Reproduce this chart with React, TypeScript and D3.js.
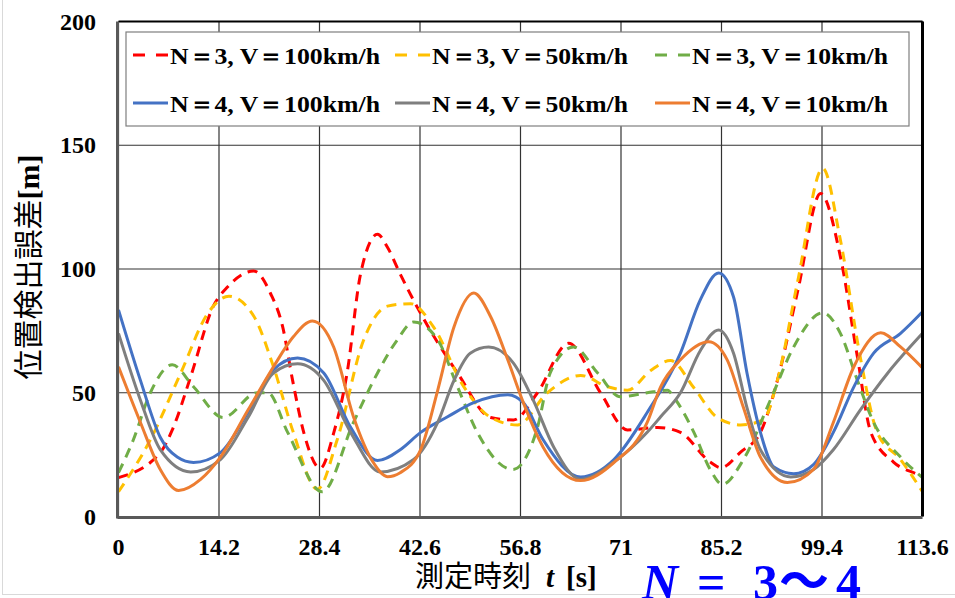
import React from "react";
import * as d3 from "d3";

const xTicks = [0, 14.2, 28.4, 42.6, 56.8, 71, 85.2, 99.4, 113.6];
const xTickLabels = ["0", "14.2", "28.4", "42.6", "56.8", "71", "85.2", "99.4", "113.6"];
const yTicks = [0, 50, 100, 150, 200];

const n3v100: [number, number][] = [
  [0, 15.7], [5.9, 25.8], [7.6, 35], [10.2, 56.5], [13.4, 85], [15.4, 92.7], [19.1, 99.2], [21.5, 90],
  [23.2, 76.6], [24.6, 55], [26.2, 33.7], [28.5, 19.5], [30.4, 33.7], [32.3, 58], [34.2, 98], [36.6, 114],
  [38, 108.8], [39.8, 98], [42.7, 82], [47.9, 58], [52.6, 40], [55.8, 39], [59.2, 50], [63.6, 70],
  [68.1, 50], [71.9, 35], [76.2, 36], [79.4, 34], [83.6, 22], [85.1, 19.7], [87.9, 26], [90.7, 34],
  [93.1, 55], [96, 91.5], [99.2, 130.5], [102, 105], [104.4, 64.5], [106.3, 34], [109.5, 22], [112.9, 17], [113.6, 16],
];
const n3v50: [number, number][] = [
  [0, 10], [4.5, 31], [8.8, 58], [12.6, 82], [15.6, 89], [19.1, 81], [21.9, 60.5], [24.7, 34], [28.1, 11],
  [30.9, 31], [34.6, 71], [38, 85], [41.3, 86], [44.5, 76.6], [48.8, 52.4], [52.6, 40], [56.4, 37],
  [60.6, 50], [65.3, 57], [69.1, 52.4], [71.9, 51], [75.2, 59], [78, 63], [81.3, 52], [84.6, 40],
  [87.9, 37], [91.1, 39], [93.1, 55], [96, 95.5], [99.5, 140.7], [102, 111.7], [104.8, 64.5],
  [107.2, 34], [110.5, 23], [113.6, 10],
];
const n3v10: [number, number][] = [
  [0, 17.7], [2.1, 31], [4.5, 50], [7.6, 61.3], [10.6, 52.4], [14.8, 40], [19.6, 50], [21.1, 50],
  [23.9, 34], [28.8, 10], [33.2, 38], [36.6, 58], [39.4, 71.4], [41.7, 78.6], [45.1, 71.4], [47.9, 52.4],
  [50.7, 34], [55.7, 19], [59.2, 36], [61, 58], [64.3, 68.5], [67.7, 58], [70.9, 48.4], [74.7, 50],
  [77.6, 51], [78.4, 48.4], [81.3, 34], [83.6, 19], [85.3, 13], [88.3, 23], [92.1, 47], [95.4, 68.5],
  [99.5, 82.3], [102, 74], [104.4, 55], [106.7, 38], [110.5, 24], [113.6, 15.7],
];
const n4v100: [number, number][] = [
  [0, 83.5], [3.1, 55], [5.9, 32], [8.3, 24], [10.6, 21.8], [14.4, 25.8], [18.3, 42], [21.9, 59.3],
  [25.3, 64], [29, 58], [32.8, 36], [36.6, 22.6], [39.8, 27], [42.7, 34], [46.5, 40.3], [50.2, 46],
  [55, 49.2], [57.2, 46], [60, 31], [65.3, 16], [70, 23], [74.7, 42], [79.4, 66], [82.2, 87.5],
  [84.8, 98.4], [86.9, 88.7], [88.8, 58], [90.7, 34], [92.6, 20], [95.4, 17.3], [98.2, 21], [101, 34],
  [103.9, 52.4], [106.7, 66], [110.5, 74], [113.6, 82.7],
];
const n4v50: [number, number][] = [
  [0, 74], [3.1, 47], [5.9, 27], [10.2, 18], [14.4, 23], [18.3, 40], [21.9, 58], [25.3, 61.7], [29, 55],
  [32.8, 34], [37, 18], [41.7, 23], [45.1, 38], [47.4, 55], [49.7, 66], [52.3, 68.5], [55.8, 62],
  [58.6, 47], [61.5, 28], [65.3, 15], [70, 22], [74.7, 34], [76.6, 40.3], [79.4, 50], [82.2, 67],
  [84.8, 75.4], [86.9, 66], [88.8, 44], [90.7, 27], [95, 16], [98.2, 19], [101, 27], [104.8, 43],
  [108.7, 58], [113.6, 74],
];
const n4v10: [number, number][] = [
  [0, 60.5], [3.1, 38], [5.9, 19], [8.5, 10.5], [11.6, 15], [14.4, 24], [18.3, 43], [21.9, 60.5],
  [24.7, 72.6], [27.4, 79], [30.4, 68.5], [33.2, 40.3], [36, 21.8], [38, 16.1], [39.8, 17.7], [42.7, 27],
  [45.1, 51], [47.4, 76.6], [50.2, 90.3], [52.6, 80.6], [55, 63.3], [57.2, 46], [60, 28], [65.3, 14.5],
  [70, 21.8], [74.7, 38], [76.6, 52.4], [79.4, 63.3], [83.4, 70.6], [86, 63.3], [88.3, 44], [90.7, 24],
  [94.5, 13.7], [98.2, 19], [101, 38], [103.9, 60.5], [107.7, 74.2], [110.5, 68.5], [113.6, 60],
];

const seriesNames = [
  "N＝3, V＝100km/h", "N＝3, V＝50km/h", "N＝3, V＝10km/h",
  "N＝4, V＝100km/h", "N＝4, V＝50km/h", "N＝4, V＝10km/h",
];
const seriesData = [n3v100, n3v50, n3v10, n4v100, n4v50, n4v10];
const seriesColors = ["#FF0000", "#FFC000", "#70AD47", "#4472C4", "#7F7F7F", "#ED7D31"];
const seriesDashed = [true, true, true, false, false, false];

const W = 955;
const H = 598;
const x = d3.scaleLinear().domain([0, 113.6]).range([118.5, 922.5]);
const y = d3.scaleLinear().domain([0, 200]).range([516.5, 21.5]);

const line = d3
  .line<[number, number]>()
  .x((d) => x(d[0]))
  .y((d) => y(d[1]))
  .curve(d3.curveMonotoneX);

const serif = "'Liberation Serif', 'Times New Roman', serif";
const cjk = "'Noto Sans CJK JP', 'Noto Sans', sans-serif";

// legend layout
const legCols = [133, 395, 655];
const legTextX = [170, 432, 692];
const legTextW = [210, 196, 196];
const legRowsY = [55, 103];
const legBaseline = [63.5, 112];

export default function App() {
  const [x0, x1] = x.range();
  const [y0, y1] = y.range();
  return (
    <svg
      width={W}
      height={H}
      style={{ position: "absolute", left: 0, top: 0, background: "#fff" }}
    >
      <rect x={0} y={0} width={W} height={H} fill="#fff" />
      <rect x={2.5} y={-5} width={W + 10} height={H + 1.5} fill="none" stroke="#d9d9d9" strokeWidth={1} />
      {/* gridlines */}
      {yTicks.map((t) => (
        <line key={"gy" + t} x1={x0} x2={x1} y1={y(t)} y2={y(t)} stroke="#333" strokeWidth={1.2} />
      ))}
      {xTicks.map((t) => (
        <line key={"gx" + t} x1={x(t)} x2={x(t)} y1={y1} y2={y0} stroke="#333" strokeWidth={1.2} />
      ))}
      {/* legend box */}
      <rect x={126} y={32} width={783} height={94} fill="#fff" stroke="#7f7f7f" strokeWidth={1.2} />
      {/* series */}
      {seriesData.map((d, i) => (
        <path
          key={"s" + i}
          d={line(d) || ""}
          fill="none"
          stroke={seriesColors[i]}
          strokeWidth={3}
          strokeDasharray={seriesDashed[i] ? "10,7" : undefined}
          strokeLinejoin="round"
        />
      ))}
      {/* frame */}
      <line x1={x0} x2={x1} y1={y1} y2={y1} stroke="#000" strokeWidth={2} />
      <line x1={x1} x2={x1} y1={y1} y2={y0} stroke="#000" strokeWidth={3} />
      <line x1={x0 - 1} x2={x0 - 1} y1={y1} y2={y0 + 2} stroke="#595959" strokeWidth={3} />
      <line x1={x0 - 1} x2={x1} y1={y0 + 1} y2={y0 + 1} stroke="#595959" strokeWidth={3} />
      {/* legend entries */}
      {seriesNames.map((name, i) => {
        const col = i % 3;
        const row = Math.floor(i / 3);
        const ly = legRowsY[row];
        return (
          <g key={"l" + i}>
            <line
              x1={legCols[col]}
              x2={legCols[col] + 35}
              y1={ly}
              y2={ly}
              stroke={seriesColors[i]}
              strokeWidth={3}
              strokeDasharray={seriesDashed[i] ? "12,11" : undefined}
            />
            <text
              x={legTextX[col]}
              y={legBaseline[row]}
              fontFamily={serif}
              fontWeight="bold"
              fontSize={24}
              textLength={legTextW[col]}
              lengthAdjust="spacingAndGlyphs"
              fill="#000"
            >
              {name}
            </text>
          </g>
        );
      })}
      {/* y tick labels */}
      {yTicks.map((t) => (
        <text
          key={"yl" + t}
          x={96}
          y={y(t) + 8}
          textAnchor="end"
          fontFamily={serif}
          fontWeight="bold"
          fontSize={24}
          fill="#000"
        >
          {t}
        </text>
      ))}
      {/* x tick labels */}
      {xTicks.map((t, i) => (
        <text
          key={"xl" + t}
          x={x(t)}
          y={555}
          textAnchor="middle"
          fontFamily={serif}
          fontWeight="bold"
          fontSize={24}
          fill="#000"
        >
          {xTickLabels[i]}
        </text>
      ))}
      {/* y axis title */}
      <text transform="translate(39,267) rotate(-90)" textAnchor="middle" fontSize={30} fill="#000">
        <tspan fontFamily={cjk}>位置検出誤差</tspan>
        <tspan fontFamily={serif} fontWeight="bold">[m]</tspan>
      </text>
      {/* x axis title */}
      <text y={587} fontSize={29} fill="#000">
        <tspan x={415} fontFamily={cjk}>測定時刻</tspan>
        <tspan x={546} fontFamily={serif} fontStyle="italic" fontWeight="bold">t</tspan>
        <tspan x={566} fontFamily={serif} fontWeight="bold">[s]</tspan>
      </text>
      {/* annotation */}
      <text y={599} fontSize={50} fill="#0000FF" fontFamily={serif} fontWeight="bold">
        <tspan x={642} fontStyle="italic">N</tspan>
        <tspan x={697}>=</tspan>
        <tspan x={753}>3</tspan>
        <tspan x={779} fontFamily={cjk}>〜</tspan>
        <tspan x={836}>4</tspan>
      </text>
    </svg>
  );
}
